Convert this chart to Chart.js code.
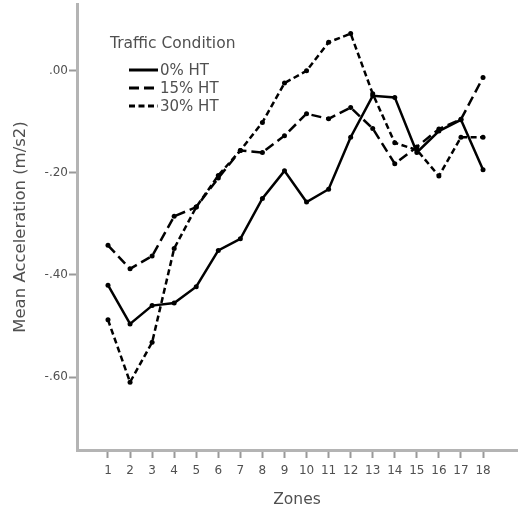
<!DOCTYPE html>
<html>
<head>
<meta charset="utf-8">
<script src="https://cdn.jsdelivr.net/npm/chart.js@4"></script>
<style>
  html, body { margin: 0; padding: 0; background: #fff; }
  #wrap { width: 524px; height: 517px; }
</style>
</head>
<body>
<div id="wrap"><canvas id="c" width="524" height="517"></canvas></div>
<script>
// zones on the x axis
const zones = [1, 2, 3, 4, 5, 6, 7, 8, 9, 10, 11, 12, 13, 14, 15, 16, 17, 18];

// mean acceleration per zone (m/s2)
const ht0  = [-0.42, -0.496, -0.46, -0.455, -0.423, -0.352, -0.329, -0.25, -0.196, -0.257, -0.232, -0.13, -0.049, -0.052, -0.16, -0.118, -0.096, -0.194];
const ht15 = [-0.342, -0.388, -0.363, -0.285, -0.267, -0.21, -0.156, -0.16, -0.127, -0.084, -0.094, -0.072, -0.113, -0.182, -0.149, -0.114, -0.095, -0.013];
const ht30 = [-0.488, -0.61, -0.532, -0.348, -0.267, -0.205, -0.156, -0.101, -0.024, 0.0, 0.056, 0.073, -0.045, -0.141, -0.155, -0.206, -0.13, -0.13];

const seriesNames = ['0% HT', '15% HT', '30% HT'];
const yTicks = [0, -0.2, -0.4, -0.6];
const legendTitle = 'Traffic Condition';

const font = 'DejaVu Sans';
const grey = '#b4b4b4';
const textCol = '#505050';

function pts(vals) {
  return zones.map((z, i) => ({ x: z, y: vals[i] }));
}

function fmt(v) {
  // SPSS style: .00, -.20
  let s = Math.abs(v).toFixed(2).replace(/^0/, '');
  return (v < -1e-9 ? '-' : '') + s;
}

const dashes = [[], [10, 5], [6, 3.5]];

// legend drawn inside the plot, top left
const legendPlugin = {
  id: 'innerLegend',
  afterDraw(chart) {
    const ctx = chart.ctx;
    ctx.save();
    ctx.fillStyle = textCol;
    ctx.font = '15.5px ' + font;
    ctx.textBaseline = 'middle';
    ctx.fillText(legendTitle, 110, 44);
    ctx.font = '15px ' + font;
    chart.data.datasets.forEach((ds, i) => {
      const y = 70 + i * 18;
      ctx.beginPath();
      ctx.setLineDash(ds.borderDash || []);
      ctx.lineWidth = 3;
      ctx.strokeStyle = '#000';
      ctx.moveTo(129, y);
      ctx.lineTo(158, y);
      ctx.stroke();
      ctx.setLineDash([]);
      ctx.fillStyle = textCol;
      ctx.fillText(ds.label, 160, y + 1);
    });
    ctx.restore();
  }
};

new Chart(document.getElementById('c'), {
  type: 'line',
  data: {
    datasets: [ht0, ht15, ht30].map((vals, i) => ({
      label: seriesNames[i],
      data: pts(vals),
      borderColor: '#000',
      backgroundColor: '#000',
      borderWidth: 2.5,
      borderDash: dashes[i],
      pointRadius: 2.5,
      pointBorderWidth: 0,
      tension: 0,
      fill: false
    }))
  },
  options: {
    responsive: false,
    animation: false,
    layout: { padding: { top: 0, right: 7, left: 0, bottom: 0 } },
    plugins: { legend: { display: false }, tooltip: { enabled: false } },
    scales: {
      x: {
        type: 'linear',
        min: -0.405,
        max: 19.54,
        afterBuildTicks(axis) { axis.ticks = zones.map(v => ({ value: v })); },
        afterFit(axis) { axis.height = 67; axis.paddingLeft = 0; axis.paddingRight = 0; },
        grid: { drawOnChartArea: false, tickLength: 8, tickColor: '#999', tickWidth: 2 },
        border: { color: grey, width: 3 },
        ticks: { color: textCol, font: { family: font, size: 12 }, padding: 6, autoSkip: false, maxRotation: 0 },
        title: { display: true, text: 'Zones', color: textCol, font: { family: font, size: 15.5 }, padding: { top: 0, bottom: 8 } }
      },
      y: {
        min: -0.743,
        max: 0.131,
        afterBuildTicks(axis) { axis.ticks = yTicks.map(v => ({ value: v })); },
        afterFit(axis) { axis.width = 77; axis.paddingTop = 0; axis.paddingBottom = 0; },
        grid: { drawOnChartArea: false, tickLength: 8, tickColor: '#999', tickWidth: 2 },
        border: { color: grey, width: 3 },
        ticks: { color: textCol, font: { family: font, size: 12 }, padding: 1, callback: v => fmt(v) },
        title: { display: true, text: 'Mean Acceleration (m/s2)', color: textCol, font: { family: font, size: 16.5 }, padding: { top: 11, bottom: 0 } }
      }
    }
  },
  plugins: [legendPlugin]
});
</script>
</body>
</html>
